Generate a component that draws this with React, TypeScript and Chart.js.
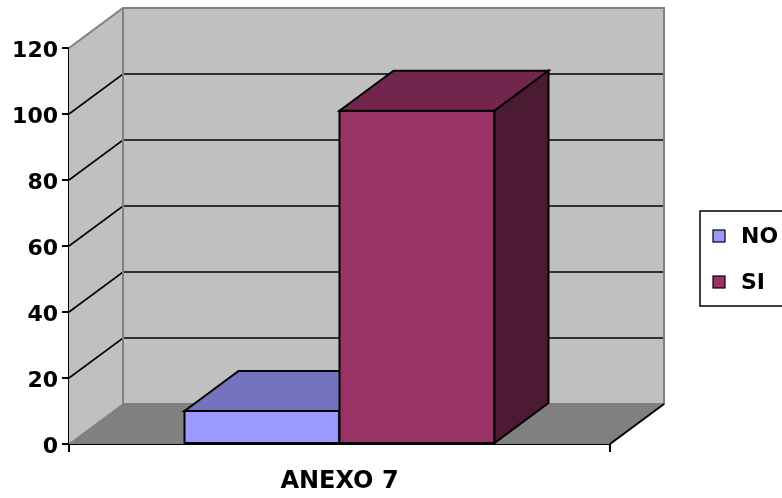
import React, { useEffect, useRef } from "react";
import { Chart, registerables } from "chart.js";

Chart.register(...registerables);

// Data
const categories = ["ANEXO 7"];
const seriesNames = ["NO", "SI"];
const noValues = [10];
const siValues = [101];
const yTicks = [0, 20, 40, 60, 80, 100, 120];

// Colours of the front, top and side faces of each series
const NO_FRONT = "#9999FF";
const NO_TOP = "#7373BF";
const NO_SIDE = "#5C5C99";
const SI_FRONT = "#993366";
const SI_TOP = "#73264D";
const SI_SIDE = "#4D1A33";
const WALL = "#C0C0C0";
const FLOOR = "#808080";
const EDGE = "#808080";

// Oblique depth of the 3D box
const DX = 54;
const DY = -40;

const FONT = { family: "'DejaVu Sans', sans-serif", weight: "bold" as const, size: 22 };

function poly(ctx: CanvasRenderingContext2D, pts: number[][]) {
  ctx.beginPath();
  ctx.moveTo(pts[0][0], pts[0][1]);
  for (let i = 1; i < pts.length; i++) ctx.lineTo(pts[i][0], pts[i][1]);
  ctx.closePath();
}

const wallPlugin = {
  id: "wall3d",
  beforeDatasetsDraw(chart: any) {
    const { ctx, chartArea } = chart;
    const { left, right, top, bottom } = chartArea;
    const y = chart.scales.y;
    ctx.save();
    // side wall
    ctx.fillStyle = WALL;
    poly(ctx, [[left, top], [left + DX, top + DY], [left + DX, bottom + DY], [left, bottom]]);
    ctx.fill();
    // back wall
    ctx.fillRect(left + DX, top + DY, right - left, bottom - top);
    // floor
    ctx.fillStyle = FLOOR;
    poly(ctx, [[left, bottom], [left + DX, bottom + DY], [right + DX, bottom + DY], [right, bottom]]);
    ctx.fill();

    // grid lines folded over the side and back walls
    ctx.strokeStyle = "#000";
    ctx.lineWidth = 1.6;
    y.ticks.forEach((t: any) => {
      if (t.value <= y.min || t.value >= y.max) return;
      const py = y.getPixelForValue(t.value);
      ctx.beginPath();
      ctx.moveTo(left, py);
      ctx.lineTo(left + DX, py + DY);
      ctx.lineTo(right + DX, py + DY);
      ctx.stroke();
    });

    // wall edges
    ctx.strokeStyle = EDGE;
    ctx.lineWidth = 2;
    ctx.beginPath();
    ctx.moveTo(left, top);
    ctx.lineTo(left + DX, top + DY);
    ctx.lineTo(right + DX, top + DY);
    ctx.lineTo(right + DX, bottom + DY);
    ctx.lineTo(left + DX, bottom + DY);
    ctx.lineTo(left + DX, top + DY);
    ctx.stroke();
    ctx.lineWidth = 1.2;
    ctx.beginPath();
    ctx.moveTo(left, bottom);
    ctx.lineTo(left + DX, bottom + DY);
    ctx.stroke();

    // front-right floor edge
    ctx.strokeStyle = "#000";
    ctx.lineWidth = 2;
    ctx.beginPath();
    ctx.moveTo(right, bottom);
    ctx.lineTo(right + DX, bottom + DY);
    ctx.stroke();
    ctx.restore();
  },
  afterDatasetsDraw(chart: any) {
    // Paint each bar as a box, left to right, so nearer faces cover farther ones
    const { ctx } = chart;
    ctx.save();
    ctx.strokeStyle = "#000";
    ctx.lineWidth = 2;
    ctx.lineJoin = "miter";
    chart.data.datasets.forEach((ds: any, i: number) => {
      const meta = chart.getDatasetMeta(i);
      meta.data.forEach((bar: any) => {
        const p = bar.getProps(["x", "y", "base", "width"], true);
        const l = p.x - p.width / 2;
        const r = p.x + p.width / 2;
        const t = Math.min(p.y, p.base);
        const b = Math.max(p.y, p.base);
        // front face
        ctx.fillStyle = ds.backgroundColor;
        poly(ctx, [[l, t], [r, t], [r, b], [l, b]]);
        ctx.fill();
        ctx.stroke();
        // top face
        ctx.fillStyle = ds.topColor;
        poly(ctx, [[l, t], [l + DX, t + DY], [r + DX, t + DY], [r, t]]);
        ctx.fill();
        ctx.stroke();
        // side face
        ctx.fillStyle = ds.sideColor;
        poly(ctx, [[r, t], [r + DX, t + DY], [r + DX, b + DY], [r, b]]);
        ctx.fill();
        ctx.stroke();
      });
    });
    ctx.restore();
  },
  afterDraw(chart: any) {
    // legend
    const { ctx } = chart;
    ctx.save();
    const bx = 700;
    const by = 211;
    ctx.fillStyle = "#fff";
    ctx.fillRect(bx, by, 100, 95);
    ctx.strokeStyle = "#000";
    ctx.lineWidth = 1.5;
    ctx.strokeRect(bx, by, 100, 95);
    ctx.font = `bold ${FONT.size}px ${FONT.family}`;
    ctx.textBaseline = "middle";
    ctx.textAlign = "left";
    chart.data.datasets.forEach((ds: any, i: number) => {
      const cy = 236 + i * 46;
      ctx.fillStyle = ds.backgroundColor;
      ctx.fillRect(713, cy - 6, 12, 12);
      ctx.lineWidth = 1.2;
      ctx.strokeRect(713, cy - 6, 12, 12);
      ctx.fillStyle = "#000";
      ctx.fillText(ds.label, 741, cy + 1);
    });
    ctx.restore();
  },
};

export default function App() {
  const ref = useRef<HTMLCanvasElement>(null);

  useEffect(() => {
    if (!ref.current) return;
    const chart = new Chart(ref.current, {
      type: "bar",
      data: {
        labels: categories,
        datasets: [
          {
            label: seriesNames[0],
            data: noValues,
            backgroundColor: NO_FRONT,
            borderColor: "#000",
            borderWidth: 2,
            topColor: NO_TOP,
            sideColor: NO_SIDE,
          } as any,
          {
            label: seriesNames[1],
            data: siValues,
            backgroundColor: SI_FRONT,
            borderColor: "#000",
            borderWidth: 2,
            topColor: SI_TOP,
            sideColor: SI_SIDE,
          } as any,
        ],
      },
      options: {
        responsive: false,
        animation: false,
        layout: { padding: { left: 0, right: 172, top: 48, bottom: 0 } },
        datasets: { bar: { barPercentage: 1, categoryPercentage: 0.573 } },
        plugins: { legend: { display: false }, tooltip: { enabled: false } },
        scales: {
          x: {
            offset: true,
            grid: { drawOnChartArea: false, drawTicks: true, tickLength: 8, color: "#000", lineWidth: 2 },
            border: { display: true, color: "#000", width: 2 },
            ticks: { color: "#000", font: { ...FONT, size: 24 }, padding: 15 },
            afterFit(s: any) {
              s.height = 54;
            },
          },
          y: {
            min: 0,
            max: 120,
            afterBuildTicks(s: any) {
              s.ticks = yTicks.map((v) => ({ value: v }));
            },
            grid: { drawOnChartArea: false, drawTicks: true, tickLength: 7, color: "#000", lineWidth: 2 },
            border: { display: true, color: "#000", width: 2 },
            ticks: { color: "#000", font: FONT, padding: 4, labelOffset: 3 },
            afterFit(s: any) {
              s.width = 69;
            },
          },
        },
      },
      plugins: [wallPlugin],
    });
    return () => chart.destroy();
  }, []);

  return (
    <div style={{ position: "fixed", left: 0, top: 0, width: 782, height: 498, background: "#fff" }}>
      <canvas ref={ref} width={782} height={498} style={{ width: 782, height: 498 }} />
    </div>
  );
}
